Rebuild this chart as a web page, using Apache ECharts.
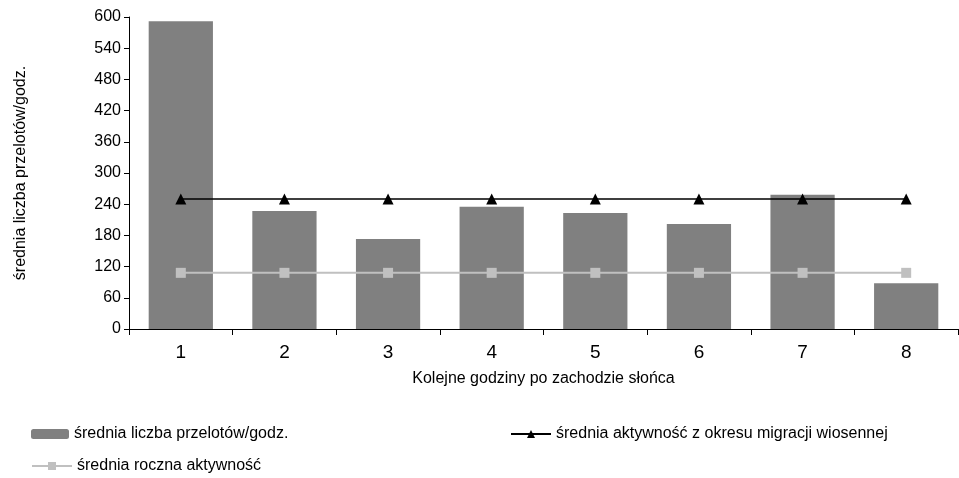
<!DOCTYPE html>
<html><head><meta charset="utf-8">
<script src="https://cdn.jsdelivr.net/npm/echarts@6/dist/echarts.min.js"></script>
<style>html,body{margin:0;padding:0;background:#fff}#c{width:959px;height:478px}</style>
</head><body><div id="c"></div>
<script>
const categories = ['1','2','3','4','5','6','7','8'];
const barValues = [592, 227, 173, 235, 223, 202, 258, 88];
const springValues = [250, 250, 250, 250, 250, 250, 250, 250];
const yearValues = [108, 108, 108, 108, 108, 108, 108, 108];
const names = ['średnia liczba przelotów/godz.', 'średnia aktywność z okresu migracji wiosennej', 'średnia roczna aktywność'];
const F = 'Liberation Sans, Arial, sans-serif';
const chart = echarts.init(document.getElementById('c'));
const lt = {fontFamily: F, fontSize: 16, color: '#000'};
chart.setOption({
  animation: false,
  grid: {left: 129, right: 1, top: 17, bottom: 149},
  legend: [
    {data: [names[0]], left: 26, top: 421, itemWidth: 38, itemHeight: 10, itemGap: 6, textStyle: lt},
    {data: [names[1]], left: 505, top: 421, itemWidth: 40, itemHeight: 10, textStyle: lt},
    {data: [names[2]], left: 26, top: 453, itemWidth: 40, itemHeight: 10, textStyle: lt}
  ],
  xAxis: {
    type: 'category', data: categories,
    name: 'Kolejne godziny po zachodzie słońca', nameLocation: 'middle', nameGap: 42,
    nameTextStyle: {fontFamily: F, fontSize: 16, color: '#000'},
    axisLine: {lineStyle: {color: '#000'}},
    axisTick: {show: true, length: 6, lineStyle: {color: '#000'}},
    axisLabel: {fontFamily: F, fontSize: 19, color: '#000', margin: 14}
  },
  yAxis: {
    type: 'value', min: 0, max: 600, interval: 60,
    name: 'średnia liczba przelotów/godz.', nameLocation: 'middle', nameGap: 100,
    nameTextStyle: {fontFamily: F, fontSize: 16, color: '#000'},
    axisLine: {show: true, lineStyle: {color: '#000'}},
    axisTick: {show: true, length: 5, lineStyle: {color: '#000'}},
    axisLabel: {fontFamily: F, fontSize: 16, color: '#000', margin: 8},
    splitLine: {show: false}
  },
  series: [
    {name: names[0], type: 'bar', data: barValues, barWidth: '62%', itemStyle: {color: '#808080'}},
    {name: names[1], type: 'line', data: springValues, symbol: 'triangle', symbolSize: 11,
     lineStyle: {color: '#000', width: 1.5}, itemStyle: {color: '#000'}},
    {name: names[2], type: 'line', data: yearValues, symbol: 'rect', symbolSize: 10,
     lineStyle: {color: '#c0c0c0', width: 2}, itemStyle: {color: '#c0c0c0'}}
  ]
});
</script></body></html>
